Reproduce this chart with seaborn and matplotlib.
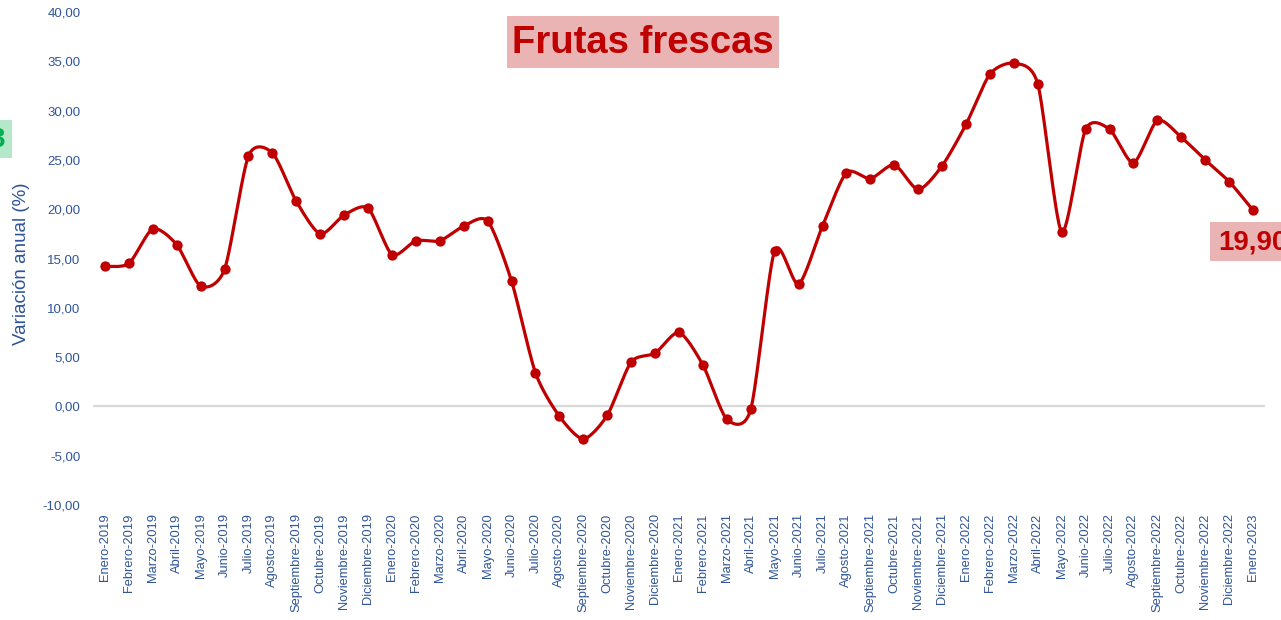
import numpy as np
import matplotlib
matplotlib.use("Agg")
import matplotlib.pyplot as plt
import matplotlib.patches as mpatches
import seaborn as sns

# Datos: variación anual (%) de frutas frescas
meses = ["Enero", "Febrero", "Marzo", "Abril", "Mayo", "Junio", "Julio", "Agosto",
         "Septiembre", "Octubre", "Noviembre", "Diciembre"]
etiquetas = [f"{m}-{a}" for a in (2019, 2020, 2021, 2022) for m in meses] + ["Enero-2023"]

variacion = [14.2, 14.5, 18.0, 16.4, 12.2, 13.9, 25.4, 25.7, 20.8, 17.5, 19.4, 20.1,
             15.4, 16.8, 16.8, 18.3, 18.8, 12.7, 3.4, -1.0, -3.3, -0.9, 4.5, 5.4,
             7.5, 4.2, -1.3, -0.3, 15.8, 12.4, 18.3, 23.7, 23.1, 24.5, 22.0, 24.4,
             28.6, 33.7, 34.8, 32.7, 17.7, 28.1, 28.1, 24.7, 29.0, 27.3, 25.0, 22.8,
             19.9]

titulo = "Frutas frescas"
ultimo = "19,90"

ROJO = "#C00000"
AZUL = "#2F5597"

sns.set_style("white")
plt.rcParams["font.family"] = ["Liberation Sans", "DejaVu Sans"]

fig = plt.figure(figsize=(12.81, 6.2), dpi=100)
ax = fig.add_axes([93 / 1281, 1 - 505 / 620, 1172 / 1281, 493 / 620])

# curva suavizada tipo Excel: Bezier paramétrica en escala de pantalla
y = np.array(variacion)
n = len(y)
x = np.arange(n)
px_x, px_y = 1172 / n, 493 / 50          # píxeles por categoría / por unidad
P = np.column_stack([x * px_x, y * px_y])
Pe = np.vstack([P[0], P, P[-1]])
t = np.linspace(0, 1, 30)[:, None]
k = 1 / 8
curva = []
for i in range(n - 1):
    p0, p3 = P[i], P[i + 1]
    p1 = p0 + (Pe[i + 2] - Pe[i]) * k
    p2 = p3 - (Pe[i + 3] - Pe[i + 1]) * k
    curva.append((1 - t) ** 3 * p0 + 3 * (1 - t) ** 2 * t * p1 + 3 * (1 - t) * t ** 2 * p2 + t ** 3 * p3)
curva = np.vstack(curva)
xs, ys = curva[:, 0] / px_x, curva[:, 1] / px_y

ax.axhline(0, color="#D9D9D9", lw=1.6, zorder=1)
sns.lineplot(x=xs, y=ys, color=ROJO, lw=2.3, ax=ax, zorder=3, sort=False)
sns.scatterplot(x=x, y=y, color=ROJO, s=55, edgecolor=ROJO, linewidth=0, ax=ax, zorder=4)

ax.set_xlim(-0.5, n - 0.5)
ax.set_ylim(-10, 40)
ax.set_yticks(np.arange(-10, 41, 5))
ax.set_yticklabels([f"{v:.2f}".replace(".", ",") for v in np.arange(-10, 41, 5)])
ax.set_xticks(x)
ax.set_xticklabels(etiquetas, rotation=90, ha="center", va="top")
ax.tick_params(axis="both", length=0, labelsize=9.5, labelcolor=AZUL)
ax.tick_params(axis="x", labelsize=9.3, pad=6)
ax.tick_params(axis="y", pad=9)
for s in ax.spines.values():
    s.set_visible(False)
ax.set_xlabel("")
ax.set_ylabel("Variación anual (%)", fontsize=13.5, color=AZUL)
ax.yaxis.set_label_coords(-0.054, 0.49)

# recuadros de texto
def caja(x0, y0, x1, y1, color):
    fig.patches.append(mpatches.Rectangle((x0 / 1281, 1 - y1 / 620), (x1 - x0) / 1281,
                                          (y1 - y0) / 620, transform=fig.transFigure,
                                          facecolor=color, edgecolor="none", zorder=5))

caja(507, 16, 779, 68, "#EBB4B4")
fig.text(643 / 1281, 1 - 43 / 620, titulo, ha="center", va="center", fontsize=27.5,
         fontweight="bold", color=ROJO, zorder=6)

caja(1210, 222, 1290, 261, "#EBB4B4")
fig.text(1218 / 1281, 1 - 242 / 620, ultimo, ha="left", va="center", fontsize=20,
         fontweight="bold", color=ROJO, zorder=6)

caja(-10, 120, 12, 158, "#B4E8C8")
fig.text(5 / 1281, 1 - 140 / 620, "3", ha="right", va="center", fontsize=20,
         fontweight="bold", color="#00B050", zorder=6)

fig.savefig("out.png", dpi=100)
